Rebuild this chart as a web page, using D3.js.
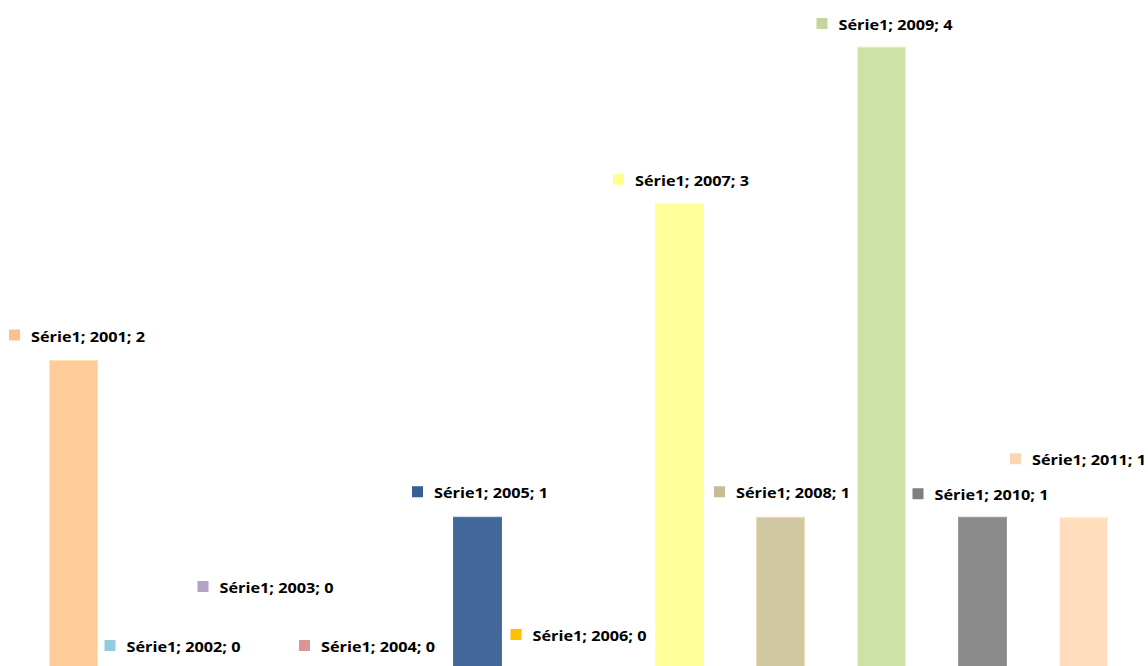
<!DOCTYPE html>
<html><head><meta charset="utf-8">
<script src="https://cdn.jsdelivr.net/npm/d3@7"></script>
<style>html,body{margin:0;padding:0;background:#fff;}svg{display:block;}</style>
</head><body>
<svg id="c" width="1148" height="666"></svg>
<script>
const seriesName = "Série1";
const years = ["2001","2002","2003","2004","2005","2006","2007","2008","2009","2010","2011"];
const values = [2,0,0,0,1,0,3,1,4,1,1];
const barColors = ["#FFCC99","#93CDDD","#B3A2C7","#D99694","#416899","#FFC000","#FFFF99","#D0C8A2","#CFE2A6","#8A8A8A","#FFDDBD"];
const markerColors = ["#FAC090","#93CDDD","#B3A2C7","#D99694","#376092","#FFC000","#FFFF8F","#C4BD97","#C3D69B","#7F7F7F","#FCD5B5"];
// label placement offsets (px) relative to bar centre / bar top
const labelDx = [3.5,-2,-10,-9.5,2.5,0,1.5,1.5,3,-2,-5.5];
const labelDy = [-25,-28,-87,-28,-25,-39,-24,-25,-23,-23,-58];

const svg = d3.select("#c");
const x = d3.scaleBand().domain(years).range([23,1134]).paddingInner(0.525).paddingOuter(0.2625);
const y = d3.scaleLinear().domain([0,4]).range([674,47]);

const data = years.map((yr,i)=>({yr, v:values[i], c:barColors[i], m:markerColors[i], dx:labelDx[i], dy:labelDy[i]}));

svg.selectAll("rect.bar").data(data).enter().append("rect")
  .attr("class","bar")
  .attr("x", d=>x(d.yr)).attr("width", x.bandwidth())
  .attr("y", d=>y(d.v)).attr("height", d=>y(0)-y(d.v))
  .attr("fill", d=>d.c)
  .attr("stroke", d=>d3.color(d.c).brighter(0.3)).attr("stroke-width",1);

const lab = svg.selectAll("g.lab").data(data).enter().append("g").attr("class","lab");
lab.each(function(d){
  const g = d3.select(this);
  const t = g.append("text")
    .attr("x", 22).attr("y", 0).attr("dy","0.42em")
    .attr("font-family","'Open Sans', sans-serif")
    .attr("font-weight","bold").attr("font-size","14.5px").attr("fill","#000")
    .text(`${seriesName}; ${d.yr}; ${d.v}`);
  let tl = t.node().getComputedTextLength();
  if (Math.abs(tl-114) > 1) { t.attr("textLength",114).attr("lengthAdjust","spacingAndGlyphs"); tl = 114; }
  const w = 22 + tl;
  g.insert("rect","text").attr("x",0).attr("y",-6).attr("width",11).attr("height",11).attr("fill",d.m);
  const cx = x(d.yr) + x.bandwidth()/2 + d.dx;
  g.attr("transform",`translate(${cx - w/2},${y(d.v)+d.dy})`);
});
</script>
</body></html>
